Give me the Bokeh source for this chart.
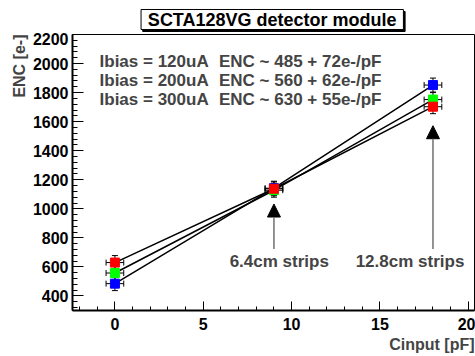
from bokeh.plotting import figure
from bokeh.models import (ColumnDataSource, Whisker, TeeHead, Arrow, NormalHead, Label,
                          Title, SingleIntervalTicker, Range1d)
from bokeh.layouts import column
from bokeh.core.properties import value
from bokeh.embed import file_html
from bokeh.resources import INLINE

# ---- data ----
cinput = [0, 9, 18]
enc_120 = [485, 1142, 1852]
enc_200 = [558, 1128, 1752]
enc_300 = [630, 1138, 1703]
xerr = [0.5, 0.5, 0.5]
yerr = [48, 48, 48]
series_colors = ["#0000ff", "#00ff00", "#ff0000"]
bias_texts = ["Ibias = 120uA", "Ibias = 200uA", "Ibias = 300uA"]
fit_texts = ["ENC ~ 485 + 72e-/pF", "ENC ~ 560 + 62e-/pF", "ENC ~ 630 + 55e-/pF"]
fit_text_y = [2011, 1886, 1755]
bias_text_x = -0.87
fit_text_x = 5.89
strip_labels = ["6.4cm strips", "12.8cm strips"]
strip_x = [9, 18]
strip_label_x = [9.3, 16.7]
strip_label_y = 636
arrow_tip = [1033, 1572]
arrow_base = 723
title_text = "SCTA128VG detector module"
FONT = "Liberation Sans"

# ---- title strip (pixel coordinates) ----
tw, th = 475, 32
tp = figure(width=tw, height=th, output_backend="svg", toolbar_location=None,
            x_range=Range1d(0, tw), y_range=Range1d(th, 0),
            x_axis_type=None, y_axis_type=None,
            min_border=0, min_border_left=0, min_border_right=0,
            min_border_top=0, min_border_bottom=0)
tp.outline_line_color = None
tp.grid.visible = False
box = dict(l=[81], r=[391], t=[9], b=[29])
tp.quad(left=[box["l"][0] + 2], right=[box["r"][0] + 2], top=[box["t"][0] + 2],
        bottom=[box["b"][0] + 2], fill_color="black", line_color="black")
tp.quad(left=box["l"], right=box["r"], top=box["t"], bottom=box["b"],
        fill_color="white", line_color="black", line_width=1)
tp.text(x=[(box["l"][0] + box["r"][0]) / 2], y=[(box["t"][0] + box["b"][0]) / 2 + 0.5],
        text=[title_text], text_font=value(FONT), text_font_style="bold",
        text_font_size="18px", text_align="center", text_baseline="middle")

# ---- main plot ----
p = figure(width=475, height=324, output_backend="svg", toolbar_location=None,
           x_range=Range1d(-2.4, 20.35), y_range=Range1d(300, 2200),
           min_border_left=72, min_border_right=1, min_border_top=2, min_border_bottom=46)
p.background_fill_color = "white"
p.border_fill_color = "white"
p.outline_line_color = "black"
p.outline_line_width = 1
p.grid.visible = False

p.xaxis.ticker = SingleIntervalTicker(interval=5, num_minor_ticks=5)
p.yaxis.ticker = SingleIntervalTicker(interval=200, num_minor_ticks=5)
for ax in (p.xaxis[0], p.yaxis[0]):
    ax.axis_line_width = 2
    ax.major_tick_out = 0
    ax.minor_tick_out = 0
    ax.major_label_text_font = FONT
    ax.major_label_text_font_style = "bold"
    ax.major_label_text_font_size = "16px"
    ax.major_label_text_color = "black"
p.xaxis.major_tick_in = 9
p.xaxis.minor_tick_in = 4
p.yaxis.major_tick_in = 11
p.yaxis.minor_tick_in = 5
p.xaxis.major_label_standoff = 7
p.yaxis.major_label_standoff = 4

p.add_layout(Title(text="ENC [e-]", align="right", text_font=FONT, text_font_style="bold",
                   text_font_size="16px", standoff=3), "left")
p.add_layout(Title(text="Cinput [pF]", align="right", text_font=FONT, text_font_style="bold",
                   text_font_size="16px", standoff=2), "below")

for ys, col in zip([enc_120, enc_200, enc_300], series_colors):
    lo = [y - e for y, e in zip(ys, yerr)]
    hi = [y + e for y, e in zip(ys, yerr)]
    xl = [x - e for x, e in zip(cinput, xerr)]
    xh = [x + e for x, e in zip(cinput, xerr)]
    src = ColumnDataSource(dict(x=cinput, y=ys, lo=lo, hi=hi, xl=xl, xh=xh))
    p.line("x", "y", source=src, line_color="black", line_width=1.5)
    p.add_layout(Whisker(source=src, base="x", lower="lo", upper="hi", dimension="height",
                         line_color="black", line_width=1,
                         lower_head=TeeHead(size=6, line_color="black"),
                         upper_head=TeeHead(size=6, line_color="black")))
    p.add_layout(Whisker(source=src, base="y", lower="xl", upper="xh", dimension="width",
                         line_color="black", line_width=1,
                         lower_head=TeeHead(size=6, line_color="black"),
                         upper_head=TeeHead(size=6, line_color="black")))
    p.scatter("x", "y", source=src, marker="square", size=9, fill_color=col, line_color=col)

for bt, ft, y in zip(bias_texts, fit_texts, fit_text_y):
    p.add_layout(Label(x=bias_text_x, y=y, text=bt, text_font=FONT, text_font_style="bold",
                       text_font_size="17px", text_baseline="middle", text_align="left"))
    p.add_layout(Label(x=fit_text_x, y=y, text=ft, text_font=FONT, text_font_style="bold",
                       text_font_size="17px", text_baseline="middle", text_align="left"))

for sx, tip, lx, lab in zip(strip_x, arrow_tip, strip_label_x, strip_labels):
    p.add_layout(Arrow(x_start=sx, y_start=arrow_base, x_end=sx, y_end=tip,
                       line_color="#707070", line_width=1.5,
                       end=NormalHead(size=13, fill_color="black", line_color="black")))
    p.add_layout(Label(x=lx, y=strip_label_y, text=lab, text_font=FONT, text_font_style="bold",
                       text_font_size="17px", text_baseline="middle", text_align="center"))

layout = column(tp, p, spacing=0)
open("out.html", "w").write(file_html(layout, INLINE))
